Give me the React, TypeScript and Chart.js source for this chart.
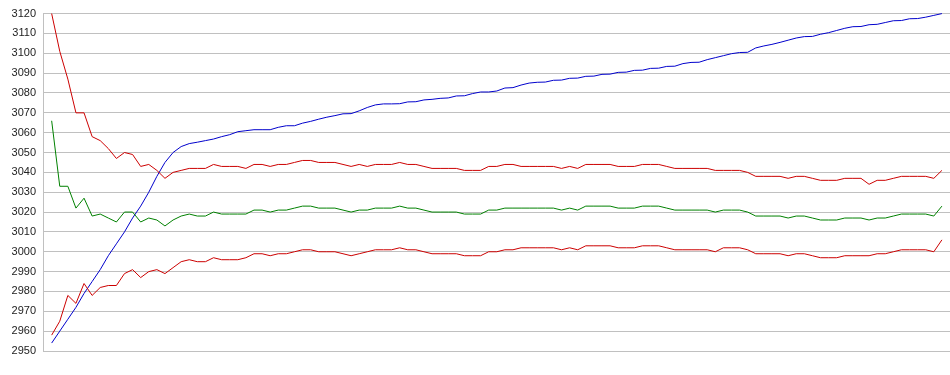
import React, { useEffect, useRef } from "react";
import { Chart, registerables } from "chart.js";

Chart.register(...registerables);

// Y axis
const yMin = 2950;
const yMax = 3120;
const yStep = 10;

// Series values (one value per step, 111 steps)
const blueSeries = [
  2954, 2960, 2966, 2972, 2979, 2985, 2991, 2998, 3004, 3010,
  3017, 3023, 3030, 3038, 3045, 3050, 3053, 3054.5, 3055.2, 3056,
  3056.8, 3058, 3059, 3060.5, 3061, 3061.5, 3061.5, 3061.5, 3062.7, 3063.5,
  3063.5, 3064.8, 3065.7, 3066.8, 3067.8, 3068.6, 3069.5, 3069.6, 3071, 3072.7,
  3074, 3074.5, 3074.5, 3074.6, 3075.5, 3075.6, 3076.5, 3076.8, 3077.3, 3077.5,
  3078.5, 3078.6, 3079.7, 3080.5, 3080.5, 3081, 3082.5, 3082.7, 3084, 3085,
  3085.4, 3085.5, 3086.4, 3086.5, 3087.4, 3087.5, 3088.4, 3088.5, 3089.4, 3089.5,
  3090.4, 3090.5, 3091.4, 3091.5, 3092.4, 3092.5, 3093.4, 3093.5, 3094.8, 3095.4,
  3095.5, 3096.8, 3097.8, 3098.8, 3099.8, 3100.4, 3100.5, 3102.7, 3103.7, 3104.5,
  3105.5, 3106.6, 3107.7, 3108.4, 3108.5, 3109.6, 3110.4, 3111.5, 3112.6, 3113.4,
  3113.5, 3114.4, 3114.6, 3115.5, 3116.4, 3116.5, 3117.4, 3117.5, 3118.2, 3119.1,
  3120,
];

const upperRed = [
  3120, 3101, 3087, 3070, 3070, 3058, 3056, 3052, 3047, 3050,
  3049, 3043, 3044, 3041, 3037, 3040, 3041, 3042, 3042, 3042,
  3044, 3043, 3043, 3043, 3042, 3044, 3044, 3043, 3044, 3044,
  3045, 3046, 3046, 3045, 3045, 3045, 3044, 3043, 3044, 3043,
  3044, 3044, 3044, 3045, 3044, 3044, 3043, 3042, 3042, 3042,
  3042, 3041, 3041, 3041, 3043, 3043, 3044, 3044, 3043, 3043,
  3043, 3043, 3043, 3042, 3043, 3042, 3044, 3044, 3044, 3044,
  3043, 3043, 3043, 3044, 3044, 3044, 3043, 3042, 3042, 3042,
  3042, 3042, 3041, 3041, 3041, 3041, 3040, 3038, 3038, 3038,
  3038, 3037, 3038, 3038, 3037, 3036, 3036, 3036, 3037, 3037,
  3037, 3034, 3036, 3036, 3037, 3038, 3038, 3038, 3038, 3037,
  3041,
];

const middleGreen = [
  3066, 3033, 3033, 3022, 3027, 3018, 3019, 3017, 3015, 3020,
  3020, 3015, 3017, 3016, 3013, 3016, 3018, 3019, 3018, 3018,
  3020, 3019, 3019, 3019, 3019, 3021, 3021, 3020, 3021, 3021,
  3022, 3023, 3023, 3022, 3022, 3022, 3021, 3020, 3021, 3021,
  3022, 3022, 3022, 3023, 3022, 3022, 3021, 3020, 3020, 3020,
  3020, 3019, 3019, 3019, 3021, 3021, 3022, 3022, 3022, 3022,
  3022, 3022, 3022, 3021, 3022, 3021, 3023, 3023, 3023, 3023,
  3022, 3022, 3022, 3023, 3023, 3023, 3022, 3021, 3021, 3021,
  3021, 3021, 3020, 3021, 3021, 3021, 3020, 3018, 3018, 3018,
  3018, 3017, 3018, 3018, 3017, 3016, 3016, 3016, 3017, 3017,
  3017, 3016, 3017, 3017, 3018, 3019, 3019, 3019, 3019, 3018,
  3023,
];

const lowerRed = [
  2958, 2965, 2978, 2974, 2984, 2978, 2982, 2983, 2983, 2989,
  2991, 2987, 2990, 2991, 2989, 2992, 2995, 2996, 2995, 2995,
  2997, 2996, 2996, 2996, 2997, 2999, 2999, 2998, 2999, 2999,
  3000, 3001, 3001, 3000, 3000, 3000, 2999, 2998, 2999, 3000,
  3001, 3001, 3001, 3002, 3001, 3001, 3000, 2999, 2999, 2999,
  2999, 2998, 2998, 2998, 3000, 3000, 3001, 3001, 3002, 3002,
  3002, 3002, 3002, 3001, 3002, 3001, 3003, 3003, 3003, 3003,
  3002, 3002, 3002, 3003, 3003, 3003, 3002, 3001, 3001, 3001,
  3001, 3001, 3000, 3002, 3002, 3002, 3001, 2999, 2999, 2999,
  2999, 2998, 2999, 2999, 2998, 2997, 2997, 2997, 2998, 2998,
  2998, 2998, 2999, 2999, 3000, 3001, 3001, 3001, 3001, 3000,
  3006,
];

const toPoints = (arr: number[]) => arr.map((v, i) => ({ x: i, y: v }));

export default function App() {
  const canvasRef = useRef<HTMLCanvasElement | null>(null);

  useEffect(() => {
    if (!canvasRef.current) return;
    const mk = (label: string, data: number[], color: string) => ({
      label,
      data: toPoints(data),
      borderColor: color,
      backgroundColor: color,
      borderWidth: 1,
      pointRadius: 0,
      pointHoverRadius: 0,
      tension: 0,
      fill: false,
      clip: 2,
    });
    const chart = new Chart(canvasRef.current, {
      type: "line",
      data: {
        datasets: [
          mk("upper", upperRed, "#cc0000"),
          mk("lower", lowerRed, "#cc0000"),
          mk("mean", middleGreen, "#008000"),
          mk("trend", blueSeries, "#0000cc"),
        ],
      },
      options: {
        animation: false,
        responsive: false,
        maintainAspectRatio: false,
        layout: { padding: { top: 10, bottom: 24, left: 0, right: 0 } },
        plugins: {
          legend: { display: false },
          tooltip: { enabled: false },
          title: { display: false },
        },
        scales: {
          x: {
            type: "linear",
            display: false,
            min: -1.07,
            max: 111,
          },
          y: {
            type: "linear",
            min: yMin,
            max: yMax,
            afterFit: (scale: any) => {
              scale.width = 43;
            },
            ticks: {
              stepSize: yStep,
              padding: 7,
              color: "#222222",
              font: { family: "'Liberation Sans', Arial, sans-serif", size: 11 },
              callback: (v: any) => String(v),
            },
            grid: {
              color: "#c0c0c0",
              lineWidth: 1,
              drawTicks: false,
            },
            border: { display: true, color: "#c0c0c0", width: 1 },
          },
        },
      },
    });
    return () => chart.destroy();
  }, []);

  return (
    <div
      style={{
        position: "fixed",
        left: 0,
        top: 0,
        width: 950,
        height: 375,
        background: "#ffffff",
      }}
    >
      <canvas ref={canvasRef} width={950} height={375} style={{ display: "block" }} />
    </div>
  );
}
